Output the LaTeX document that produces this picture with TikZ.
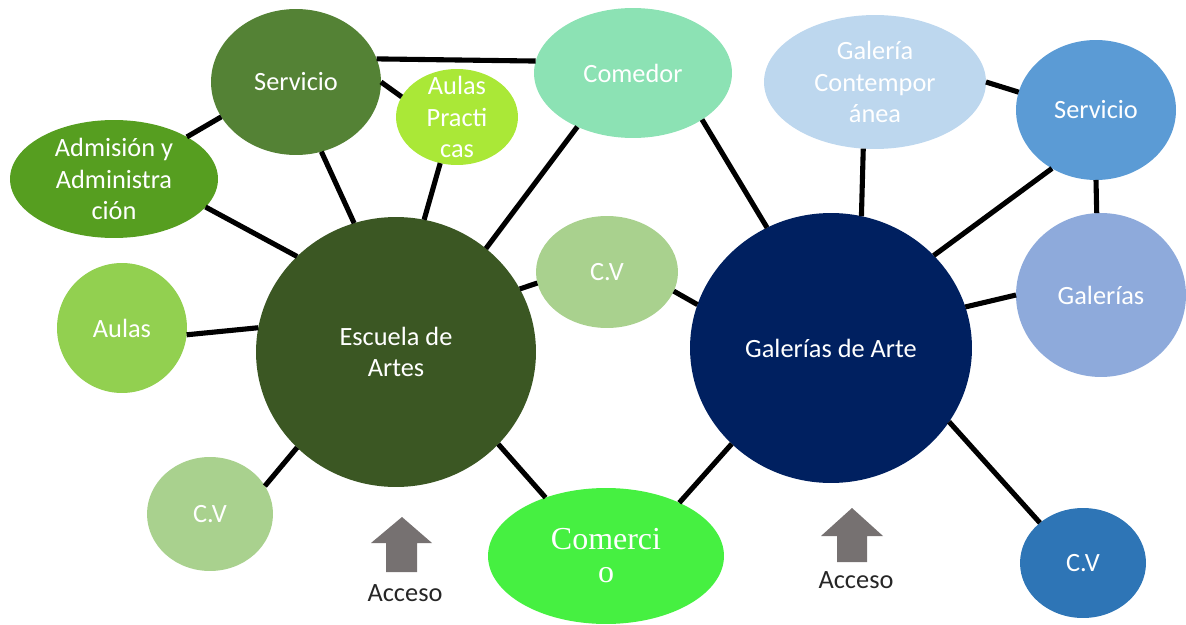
\documentclass[tikz,border=0pt]{standalone}
\usepackage{fontspec}
\setmainfont{Carlito}
\newfontfamily\timesfont{Liberation Serif}
\usetikzlibrary{shapes.geometric}
\definecolor{servgreen}{RGB}{84,130,53}
\definecolor{admgreen}{RGB}{86,158,32}
\definecolor{aulpgreen}{RGB}{170,232,55}
\definecolor{comedorc}{RGB}{140,226,180}
\definecolor{escgreen}{RGB}{59,87,35}
\definecolor{aulasgreen}{RGB}{146,208,80}
\definecolor{cvgreen}{RGB}{169,209,142}
\definecolor{comerc}{RGB}{70,240,65}
\definecolor{galnavy}{RGB}{0,32,96}
\definecolor{gconblue}{RGB}{189,215,238}
\definecolor{servblue}{RGB}{91,155,213}
\definecolor{galsblue}{RGB}{142,170,219}
\definecolor{cvblue}{RGB}{46,117,182}
\definecolor{accgray}{RGB}{118,113,113}

\begin{document}
\begin{tikzpicture}[x=0.02cm, y=-0.02cm,
  bub/.style={ellipse, inner sep=0pt, outer sep=0pt},
  lbl/.style={text=white, align=center, font=\fontsize{15}{17.8}\selectfont},
  con/.style={line width=2.9pt},
  acctxt/.style={text=black!85, font=\fontsize{15}{18}\selectfont}]
\useasboundingbox (0,0) rectangle (1186,625);
% bubbles, left group
\node[bub, fill=servgreen, minimum width=3.4cm, minimum height=2.92cm] (servg) at (296,82) {};
\node[bub, fill=admgreen, minimum width=4.16cm, minimum height=2.36cm] (adm) at (114,179) {};
\node[bub, fill=aulpgreen, minimum width=2.44cm, minimum height=1.92cm] (aulp) at (457,117) {};
\node[bub, fill=comedorc, minimum width=3.96cm, minimum height=2.6cm] (com) at (633,73) {};
\node[bub, fill=escgreen, minimum width=5.6cm, minimum height=5.4cm] (esc) at (396,352) {};
\node[bub, fill=aulasgreen, minimum width=2.6cm, minimum height=2.6cm] (aulas) at (122,328) {};
\node[bub, fill=cvgreen, minimum width=2.52cm, minimum height=2.28cm] (cvl) at (210,514) {};
\node[bub, fill=comerc, minimum width=4.72cm, minimum height=2.72cm] (comer) at (606,556) {};
\node[bub, fill=cvgreen, minimum width=2.84cm, minimum height=2.24cm] (cvm) at (607,272) {};
% bubbles, right group
\node[bub, fill=galnavy, minimum width=5.64cm, minimum height=5.4cm] (gal) at (831,348) {};
\node[bub, fill=gconblue, minimum width=4.44cm, minimum height=2.68cm] (gcon) at (875,82) {};
\node[bub, fill=servblue, minimum width=3.2cm, minimum height=2.8cm] (servb) at (1096,110) {};
\node[bub, fill=galsblue, minimum width=3.4cm, minimum height=3.28cm] (gals) at (1101,295) {};
\node[bub, fill=cvblue, minimum width=2.52cm, minimum height=2.2cm] (cvb) at (1083,563) {};
% texts
\node[lbl] (t-servg) at (servg) {Servicio};
\node[lbl] (t-adm) at (adm) {Admisión y\\Administra\\ción};
\node[lbl] (t-aulp) at (aulp) {Aulas\\Practi\\cas};
\node[lbl] (t-com) at (com) {Comedor};
\node[lbl] (t-esc) at (esc) {Escuela de\\Artes};
\node[lbl] (t-aulas) at (aulas) {Aulas};
\node[lbl] (t-cvl) at (cvl) {C.V};
\node[lbl, font=\timesfont\fontsize{18.2}{18.8}\selectfont] (t-comer) at (comer) {Comerci\\o};
\node[lbl] (t-cvm) at (cvm) {C.V};
\node[lbl] (t-gal) at (gal) {Galerías de Arte};
\node[lbl] (t-gcon) at (gcon) {Galería\\Contempor\\ánea};
\node[lbl] (t-servb) at (servb) {Servicio};
\node[lbl] (t-gals) at (gals) {Galerías};
\node[lbl] (t-cvb) at (cvb) {C.V};
% connectors
\draw[con] (servg.16) -- (com.173);
\draw[con] (servg.0) -- (aulp.160);
\draw[con] (servg.205) -- (adm.30);
\draw[con] (servg.290) -- (esc.108);
\draw[con] (aulp.250) -- (esc.78);
\draw[con] (adm.343) -- (esc.136);
\draw[con] (com.224) -- (esc.49);
\draw[con] (esc.27) -- (cvm.189);
\draw[con] (aulas.354) -- (esc.170);
\draw[con] (esc.224) -- (cvl.27);
\draw[con] (esc.318) -- (comer.136);
\draw[con] (com.326) -- (gal.118);
\draw[con] (gcon.260) -- (gal.77);
\draw[con] (gcon.0) -- (servb.167);
\draw[con] (servb.233) -- (gal.42);
\draw[con] (servb.270) -- (gals.93);
\draw[con] (gal.17) -- (gals.180);
\draw[con] (cvm.344) -- (gal.162);
\draw[con] (gal.224) -- (comer.36);
\draw[con] (gal.328) -- (cvb.137);
% access arrows
\fill[accgray] (402,517) -- (432,543) -- (417,543) -- (417,572) -- (386,572) -- (386,543) -- (371,543) -- cycle;
\fill[accgray] (852,508) -- (883,536) -- (867,536) -- (867,562) -- (837,562) -- (837,536) -- (821,536) -- cycle;
\node[acctxt] (acc1) at (405,593) {Acceso};
\node[acctxt] (acc2) at (856,580) {Acceso};
\end{tikzpicture}
\end{document}
